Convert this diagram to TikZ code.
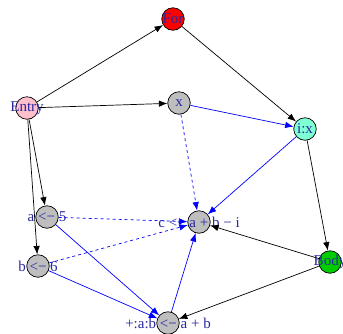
\documentclass[tikz,border=0pt]{standalone}
\usepackage{fontspec}
\setmainfont{Liberation Serif}
\usetikzlibrary{arrows.meta}
\definecolor{lbl}{RGB}{40,40,160}
\definecolor{gnode}{RGB}{190,190,190}
\definecolor{pinknode}{RGB}{255,192,203}
\definecolor{aqua}{RGB}{127,255,212}
\definecolor{greennode}{RGB}{0,205,0}
\tikzset{
  vert/.style={circle,draw=black,line width=0.7pt,minimum size=22.5pt,inner sep=0pt,fill=gnode},
  lab/.style={text=lbl,font=\fontsize{15}{15}\selectfont,inner sep=0pt},
  ctrl/.style={draw=black,line width=0.7pt,-{Latex[length=8.5pt,width=6.5pt]}},
  dataf/.style={draw=blue,line width=0.7pt,-{Latex[length=8.5pt,width=6.5pt]}},
  datad/.style={dataf,dash pattern=on 3pt off 3pt},
}
\begin{document}
\begin{tikzpicture}[x=1pt,y=-1pt]
\useasboundingbox (0,0) rectangle (343,333);
\node[vert,fill=red] (for) at (173,19) {};
\node[vert,fill=pinknode] (entry) at (27,108) {};
\node[vert] (x) at (179,103) {};
\node[vert,fill=aqua] (ix) at (305,129) {};
\node[vert] (a) at (47,217) {};
\node[vert] (b) at (38,266) {};
\node[vert] (c) at (199,222) {};
\node[vert,fill=greennode] (body) at (330,262) {};
\node[vert] (p) at (168,323) {};
\node[lab] (lfor) at (for) {For};
\node[lab] (lentry) at (entry) {Entry};
\node[lab] (lx) at (x) {x};
\node[lab] (lix) at (ix) {i:x};
\node[lab] (la) at (a) {a <− 5};
\node[lab] (lb) at (b) {b <− 6};
\node[lab] (lc) at (c) {c <− a + b − i};
\node[lab] (lbody) at (body) {Body};
\node[lab] (lp) at (p) {+:a:b <− a + b};
\draw[ctrl] (entry) -- (for);
\draw[ctrl] (entry) -- (x);
\draw[ctrl] (entry) -- (a);
\draw[ctrl] (entry) -- (b);
\draw[ctrl] (for) -- (ix);
\draw[ctrl] (ix) -- (body);
\draw[ctrl] (body) -- (c);
\draw[ctrl] (body) -- (p);
\draw[dataf] (x) -- (ix);
\draw[datad] (x) -- (c);
\draw[dataf] (ix) -- (c);
\draw[datad] (a) -- (c);
\draw[datad] (b) -- (c);
\draw[dataf] (a) -- (p);
\draw[dataf] (b) -- (p);
\draw[dataf] (p) -- (c);
\end{tikzpicture}
\end{document}
